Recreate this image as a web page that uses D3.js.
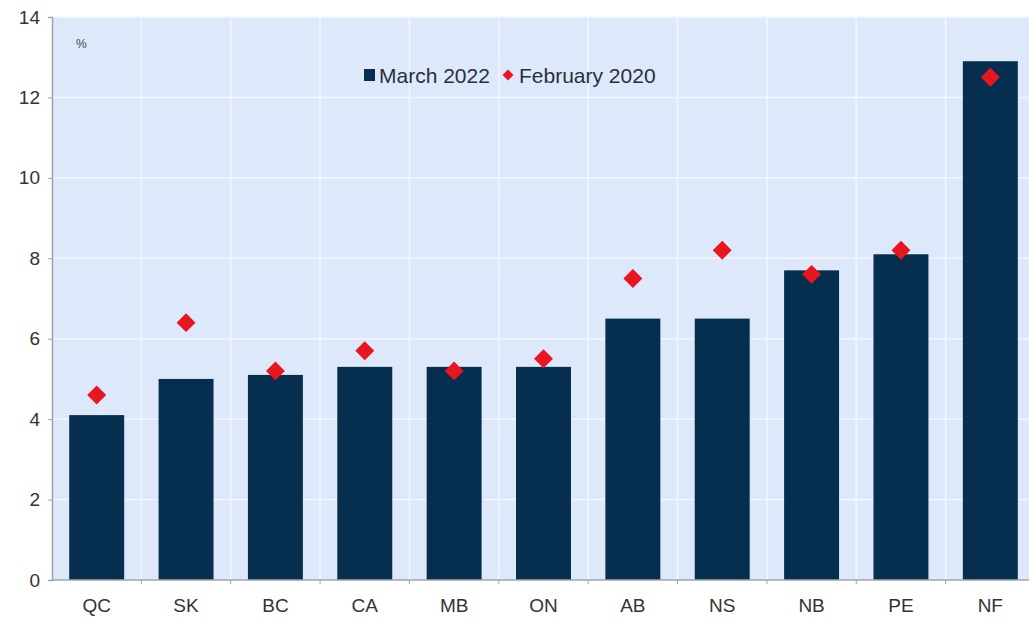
<!DOCTYPE html>
<html>
<head>
<meta charset="utf-8">
<script src="https://cdn.jsdelivr.net/npm/d3@7"></script>
<style>
  html, body { margin: 0; padding: 0; background: #ffffff; }
  svg { display: block; font-family: "Liberation Sans", Arial, sans-serif; }
</style>
</head>
<body>
<svg id="chart" width="1029" height="618"></svg>
<script>
// Unemployment rate by province, %
const provinces = ["QC", "SK", "BC", "CA", "MB", "ON", "AB", "NS", "NB", "PE", "NF"];
const march2022 = [4.1, 5.0, 5.1, 5.3, 5.3, 5.3, 6.5, 6.5, 7.7, 8.1, 12.9];
const february2020 = [4.6, 6.4, 5.2, 5.7, 5.2, 5.5, 7.5, 8.2, 7.6, 8.2, 12.5];
const yTicks = [0, 2, 4, 6, 8, 10, 12, 14];
const seriesNames = ["March 2022", "February 2020"];

const svg = d3.select("#chart");
const margin = { left: 52, top: 17, bottom: 580, right: 1035 };

const x = d3.scaleBand()
  .domain(provinces)
  .range([margin.left, margin.right])
  .paddingInner(0.385)
  .paddingOuter(0.1925);

const y = d3.scaleLinear().domain([0, 14]).range([margin.bottom, margin.top]);

// Plot background
svg.append("rect")
  .attr("x", margin.left).attr("y", margin.top)
  .attr("width", margin.right - margin.left)
  .attr("height", margin.bottom - margin.top)
  .attr("fill", "#dde9fb");

// Horizontal gridlines
svg.append("g").selectAll("line")
  .data(yTicks.slice(1))
  .join("line")
  .attr("x1", margin.left).attr("x2", margin.right)
  .attr("y1", d => y(d)).attr("y2", d => y(d))
  .attr("stroke", "#f3f7fd").attr("stroke-width", 1.5);

// Vertical gridlines at category boundaries
const step = x.step();
const boundaries = provinces.slice(1).map(p => x(p) - x.paddingInner() * step / 2);
svg.append("g").selectAll("line")
  .data(boundaries)
  .join("line")
  .attr("x1", d => d).attr("x2", d => d)
  .attr("y1", margin.top).attr("y2", margin.bottom)
  .attr("stroke", "#f3f7fd").attr("stroke-width", 1.5);

// Bars: March 2022
svg.append("g").selectAll("rect")
  .data(provinces)
  .join("rect")
  .attr("x", d => x(d))
  .attr("width", x.bandwidth())
  .attr("y", (d, i) => y(march2022[i]))
  .attr("height", (d, i) => y(0) - y(march2022[i]))
  .attr("fill", "#062e4e");

// Diamonds: February 2020
const diamond = d3.symbol().type(d3.symbolSquare).size(180);
svg.append("g").selectAll("path")
  .data(provinces)
  .join("path")
  .attr("d", diamond)
  .attr("transform", (d, i) => `translate(${x(d) + x.bandwidth() / 2},${y(february2020[i])}) rotate(45)`)
  .attr("fill", "#e8161e");

// Y axis
const yAxis = d3.axisLeft(y).tickValues(yTicks).tickSize(4).tickPadding(8);
const gy = svg.append("g").attr("transform", `translate(${margin.left},0)`).call(yAxis);
gy.select(".domain").attr("stroke", "#a0a4aa").attr("stroke-width", 1.5);
gy.selectAll(".tick line").attr("stroke", "#a0a4aa");
gy.selectAll(".tick text").attr("font-size", 19).attr("fill", "#333")
  .attr("font-family", "'Liberation Sans', Arial, sans-serif");

// X axis
const gx = svg.append("g").attr("transform", `translate(0,${margin.bottom})`);
gx.append("line")
  .attr("x1", margin.left).attr("x2", margin.right)
  .attr("stroke", "#a0a4aa").attr("stroke-width", 1.5);
gx.selectAll(".btick")
  .data(boundaries)
  .join("line")
  .attr("class", "btick")
  .attr("x1", d => d).attr("x2", d => d)
  .attr("y1", 0).attr("y2", 4)
  .attr("stroke", "#a0a4aa");
gx.selectAll("text")
  .data(provinces)
  .join("text")
  .attr("x", d => x(d) + x.bandwidth() / 2)
  .attr("y", 32)
  .attr("text-anchor", "middle")
  .attr("font-size", 19)
  .attr("fill", "#333")
  .text(d => d);

// Unit label
svg.append("text")
  .attr("x", 76).attr("y", 48)
  .attr("font-size", 12).attr("fill", "#444")
  .text("%");

// Legend
const legend = svg.append("g").attr("transform", "translate(364,75)");
legend.append("rect")
  .attr("x", 0).attr("y", -6).attr("width", 11).attr("height", 12)
  .attr("fill", "#062e4e");
legend.append("text")
  .attr("x", 15).attr("y", 7.5)
  .attr("font-size", 21).attr("fill", "#2b2f3a")
  .text(seriesNames[0]);
legend.append("path")
  .attr("d", d3.symbol().type(d3.symbolSquare).size(60))
  .attr("transform", "translate(144,0) rotate(45)")
  .attr("fill", "#e8161e");
legend.append("text")
  .attr("x", 155).attr("y", 7.5)
  .attr("font-size", 21).attr("fill", "#2b2f3a")
  .text(seriesNames[1]);
</script>
</body>
</html>
